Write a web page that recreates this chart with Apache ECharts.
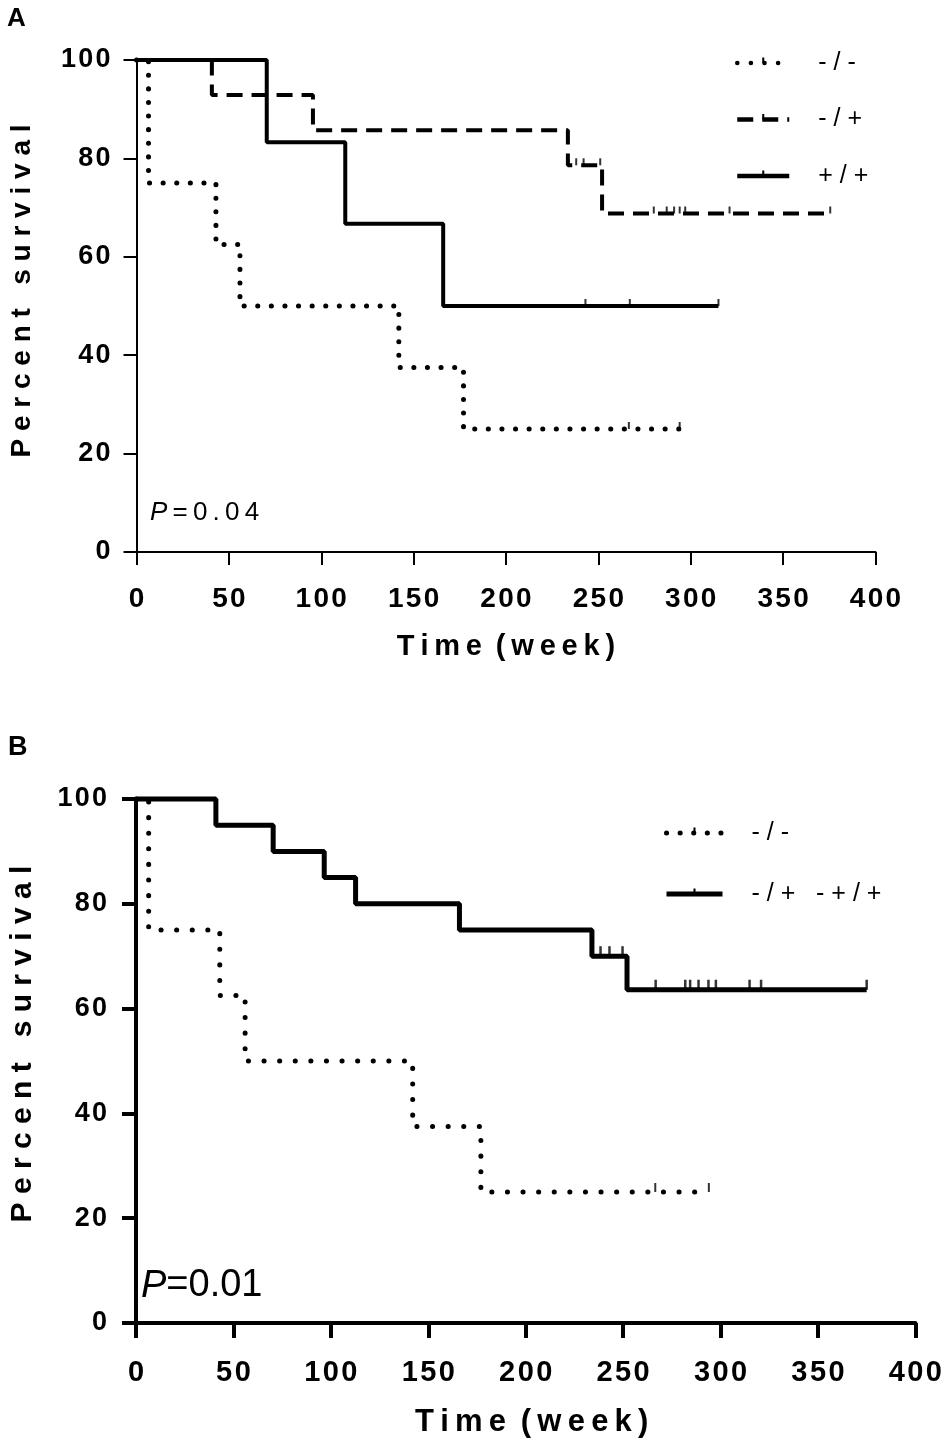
<!DOCTYPE html>
<html>
<head>
  <meta charset="utf-8">
  <title>Survival curves</title>
  <script src="https://cdn.jsdelivr.net/npm/echarts@6/dist/echarts.min.js"></script>
  <style>
    html, body { margin: 0; padding: 0; background: #fff; }
    #chart { width: 945px; height: 1445px; }
  </style>
</head>
<body>
  <div id="chart"></div>
  <script>
    // time axis ticks (weeks) and percent ticks
    const weekTicks = [0, 50, 100, 150, 200, 250, 300, 350, 400];
    const percentTicks = [0, 20, 40, 60, 80, 100];

    // -/- group (same patients in A and B)
    const negWeeks = [0, 6.5, 43, 56, 142, 177, 294];
    const negSurv = [100, 75, 62.5, 50, 37.5, 25, 25];
    const negCensorWeeks = [266.5, 294];
    const negCensorSurv = [25, 25];

    // -/+ group (panel A)
    const hetWeeks = [0, 40.8, 95.5, 233.5, 252, 375.5];
    const hetSurv = [100, 92.9, 85.7, 78.6, 68.8, 68.8];
    const hetCensorWeeks = [238, 242, 251, 280, 287, 291, 294, 297, 321, 375.5];
    const hetCensorSurv = [78.6, 78.6, 78.6, 68.8, 68.8, 68.8, 68.8, 68.8, 68.8, 68.8];

    // +/+ group (panel A)
    const posWeeks = [0, 70.5, 113, 166, 315];
    const posSurv = [100, 83.3, 66.7, 50, 50];
    const posCensorWeeks = [243, 267, 315];
    const posCensorSurv = [50, 50, 50];

    // -/+ and +/+ pooled (panel B)
    const poolWeeks = [0, 41, 70.4, 96.6, 112.7, 166, 234, 252, 375];
    const poolSurv = [100, 95, 90, 85, 80, 75, 70, 63.6, 63.6];
    const poolCensorWeeks = [238.4, 243, 249.7, 266.7, 281.9, 284.4, 288.7, 293.8, 297.6, 314.9, 320.8, 375];
    const poolCensorSurv = [70, 70, 70, 63.6, 63.6, 63.6, 63.6, 63.6, 63.6, 63.6, 63.6, 63.6];

    const FONT = "'Liberation Sans', Arial, sans-serif";
    // little censor tick drawn in the middle of legend keys
    const TICK = 'path://M0,10 L10,10 M4.1,0 L5.9,0 L5.9,5 L4.1,5 Z';
    const chart = echarts.init(document.getElementById('chart'));

    function pairs(xs, ys) {
      return xs.map(function (x, i) { return [x, ys[i]]; });
    }
    function spaced(s, sep) {
      return String(s).split('').join(sep);
    }

    function xAxisFor(gridIndex, lineW, tickLen, labelSize, labelMargin, nameSize, nameGap, namePad) {
      return {
        type: 'value', gridIndex: gridIndex,
        min: weekTicks[0], max: weekTicks[weekTicks.length - 1],
        interval: weekTicks[1] - weekTicks[0],
        name: 'T\u2009i\u2009m\u2009e \u2009(\u2009w\u2009e\u2009e\u2009k\u2009)',
        nameLocation: 'middle', nameGap: nameGap, nameMoveOverlap: false,
        nameTextStyle: { fontFamily: FONT, fontWeight: 'bold', fontSize: nameSize, color: '#000', padding: namePad },
        axisLine: { show: true, onZero: false, lineStyle: { color: '#000', width: lineW } },
        axisTick: { show: true, length: tickLen, lineStyle: { color: '#000', width: lineW } },
        axisLabel: {
          fontFamily: FONT, fontWeight: 'bold', fontSize: labelSize, color: '#000', margin: labelMargin,
          formatter: function (v) { return spaced(v, '\u200a'); }
        },
        splitLine: { show: false }
      };
    }

    function yAxisFor(gridIndex, lineW, tickLen, labelSize, labelMargin, nameSize, nameGap, namePad) {
      return {
        type: 'value', gridIndex: gridIndex,
        min: percentTicks[0], max: percentTicks[percentTicks.length - 1],
        interval: percentTicks[1] - percentTicks[0],
        name: 'P e r c e n t   s u r v i v a l',
        nameLocation: 'middle', nameGap: nameGap, nameMoveOverlap: false,
        nameTextStyle: { fontFamily: FONT, fontWeight: 'bold', fontSize: nameSize, color: '#000', padding: namePad },
        axisLine: { show: true, onZero: false, lineStyle: { color: '#000', width: lineW } },
        axisTick: { show: true, length: tickLen, lineStyle: { color: '#000', width: lineW } },
        axisLabel: {
          fontFamily: FONT, fontWeight: 'bold', fontSize: labelSize, color: '#000', margin: labelMargin,
          formatter: function (v) { return spaced(v, '\u200a'); }
        },
        splitLine: { show: false }
      };
    }

    function curve(name, idx, xs, ys, width, type) {
      return {
        name: name, type: 'line', step: 'end',
        xAxisIndex: idx, yAxisIndex: idx,
        data: pairs(xs, ys),
        symbol: TICK, showSymbol: false, clip: false, animation: false, z: 3,
        itemStyle: { color: '#000' },
        lineStyle: { color: '#000', width: width, type: type, cap: Array.isArray(type) && type[0] < 1 ? 'round' : 'butt' }
      };
    }

    function censors(name, idx, xs, ys, size) {
      return {
        name: name, type: 'scatter',
        xAxisIndex: idx, yAxisIndex: idx,
        data: pairs(xs, ys),
        symbol: 'rect', symbolSize: size, symbolOffset: [0, -size[1] / 2],
        itemStyle: { color: '#000' }, silent: true, animation: false, z: 4
      };
    }

    const legendText = {
      fontFamily: FONT, fontSize: 25, color: '#000', lineHeight: 26,
      padding: [0, 0, 0, 24]
    };

    const option = {
      backgroundColor: '#fff',
      animation: false,
      title: [
        { text: 'A', left: 2, top: 1, textStyle: { fontFamily: FONT, fontWeight: 'bold', fontSize: 26, color: '#000' } },
        { text: 'B', left: 3, top: 729, textStyle: { fontFamily: FONT, fontWeight: 'bold', fontSize: 27, color: '#000' } },
        {
          text: '{i|P}{n|\u2009=\u20090\u2009.\u20090\u20094}', left: 145, top: 495,
          textStyle: {
            fontWeight: 'normal',
            rich: {
              i: { fontFamily: FONT, fontStyle: 'italic', fontWeight: 'normal', fontSize: 26, color: '#000' },
              n: { fontFamily: FONT, fontWeight: 'normal', fontSize: 26, color: '#000' }
            }
          }
        },
        {
          text: '{i|P}{n|=0.01}', left: 136, top: 1262,
          textStyle: {
            fontWeight: 'normal',
            rich: {
              i: { fontFamily: FONT, fontStyle: 'italic', fontWeight: 'normal', fontSize: 38, color: '#000' },
              n: { fontFamily: FONT, fontWeight: 'normal', fontSize: 38, color: '#000' }
            }
          }
        }
      ],
      legend: [
        {
          data: ['-/-', '-/+', '+/+'], orient: 'vertical', left: 730, top: 45,
          itemWidth: 52, itemHeight: 14, itemGap: 30.5, selectedMode: false,
          lineStyle: { width: 4.5 },
          textStyle: legendText,
          formatter: function (n) { return spaced(n, ' '); }
        },
        {
          data: ['-/-', '-/+ -+/+'], orient: 'vertical', left: 659, top: 815,
          itemWidth: 56, itemHeight: 14, itemGap: 35, selectedMode: false,
          lineStyle: { width: 5 },
          textStyle: legendText,
          formatter: function (n) { return spaced(n, ' '); }
        }
      ],
      grid: [
        { left: 136.5, top: 60, width: 739, height: 492, containLabel: false },
        { left: 132, top: 799, width: 788, height: 524, containLabel: false }
      ],
      xAxis: [
        xAxisFor(0, 2, 13, 28, 33, 29, 80, [0, 0, 0, 0]),
        xAxisFor(1, 4, 15, 29, 35, 31, 84, [0, 0, 0, 12])
      ],
      yAxis: [
        yAxisFor(0, 2, 13, 27, 26, 28, 100, [0, 0, 0, 30]),
        yAxisFor(1, 4, 14, 27, 29, 30, 98, [0, 0, 0, 34])
      ],
      series: [
        curve('-/-', 0, negWeeks, negSurv, 5, [0.1, 13.5]),
        curve('-/+', 0, hetWeeks, hetSurv, 4, [16, 9]),
        curve('+/+', 0, posWeeks, posSurv, 4, 'solid'),
        censors('-/- censored A', 0, negCensorWeeks, negCensorSurv, [2, 7]),
        censors('-/+ censored A', 0, hetCensorWeeks, hetCensorSurv, [2, 7]),
        censors('+/+ censored A', 0, posCensorWeeks, posCensorSurv, [2, 7]),
        curve('-/-', 1, negWeeks, negSurv, 5, [0.1, 15.5]),
        curve('-/+ -+/+', 1, poolWeeks, poolSurv, 5, 'solid'),
        censors('-/- censored B', 1, negCensorWeeks, negCensorSurv, [2, 9]),
        censors('pooled censored B', 1, poolCensorWeeks, poolCensorSurv, [2.5, 10])
      ]
    };

    chart.setOption(option);
  </script>
</body>
</html>
